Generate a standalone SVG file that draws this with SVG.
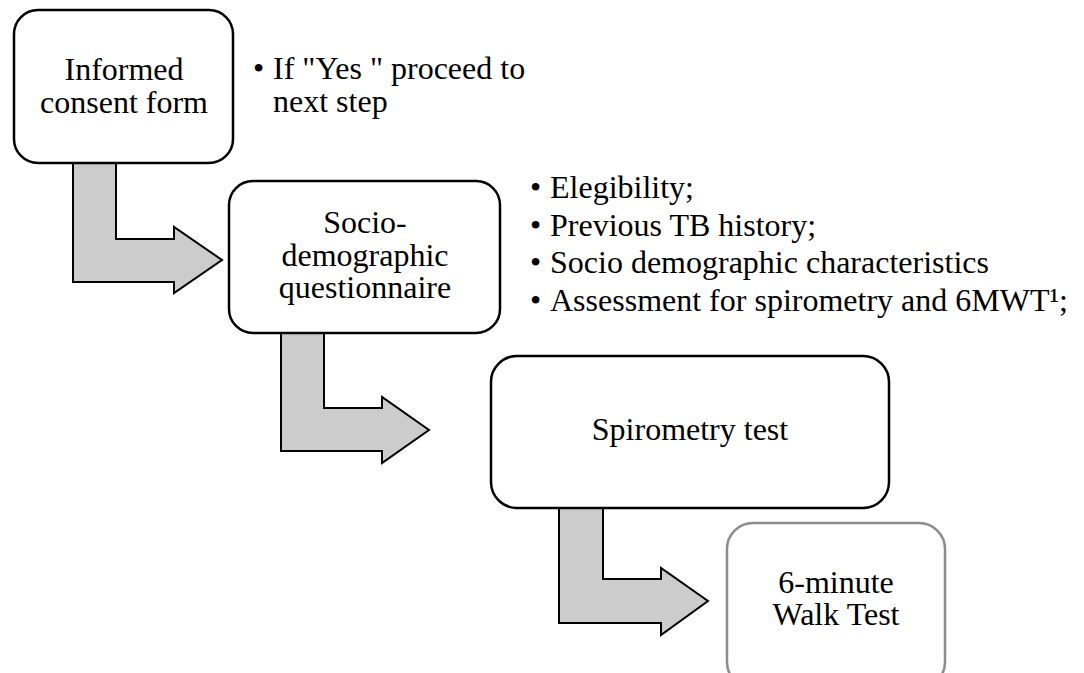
<svg xmlns="http://www.w3.org/2000/svg" width="1084" height="673" viewBox="0 0 1084 673">
<style>
.box{fill:#fff;stroke:#000;stroke-width:2.5}
.box4{fill:#fff;stroke:#8c8c8c;stroke-width:2.5}
.arr{fill:#cccccc;stroke:#000;stroke-width:2;stroke-linejoin:miter}
text{font-family:'Liberation Serif','Times New Roman',serif;font-size:32px;fill:#000}
.c{text-anchor:middle}
</style>
<rect width="1084" height="673" fill="#fff"/>
<g id="connectors">
<polygon class="arr" points="73,163 116,163 116,239 174,239 174,227 222,260 174,293 174,282 73,282"/>
<polygon class="arr" points="281,333 324,333 324,408 382,408 382,397 429,430 382,463 382,451 281,451"/>
<polygon class="arr" points="559,508 603,508 603,579 661,579 661,568 708,601 661,635 661,623 559,623"/>
</g>
<g id="n1">
<rect class="box" x="14" y="10" width="219" height="153" rx="24"/>
<text class="c" x="124" y="80">Informed</text>
<text class="c" x="124" y="113">consent form</text>
</g>
<g id="n1note">
<text x="253" y="79">•</text>
<text x="273" y="79">If "Yes " proceed to</text>
<text x="273" y="112">next step</text>
</g>
<g id="n2">
<rect class="box" x="229" y="181" width="271" height="152" rx="24"/>
<text class="c" x="365" y="233">Socio-</text>
<text class="c" x="365" y="266">demographic</text>
<text class="c" x="365" y="298">questionnaire</text>
</g>
<g id="n2note">
<text x="530" y="198">•</text><text x="550" y="198">Elegibility;</text>
<text x="530" y="236">•</text><text x="550" y="236">Previous TB history;</text>
<text x="530" y="273">•</text><text x="550" y="273">Socio demographic characteristics</text>
<text x="530" y="311">•</text><text x="550" y="311">Assessment for spirometry and 6MWT¹;</text>
</g>
<g id="n3">
<rect class="box" x="491" y="356" width="398" height="152" rx="26"/>
<text class="c" x="690" y="440">Spirometry test</text>
</g>
<g id="n4">
<rect class="box4" x="727" y="523" width="218" height="165" rx="26"/>
<text class="c" x="836" y="593">6-minute</text>
<text class="c" x="836" y="625">Walk Test</text>
</g>
</svg>
